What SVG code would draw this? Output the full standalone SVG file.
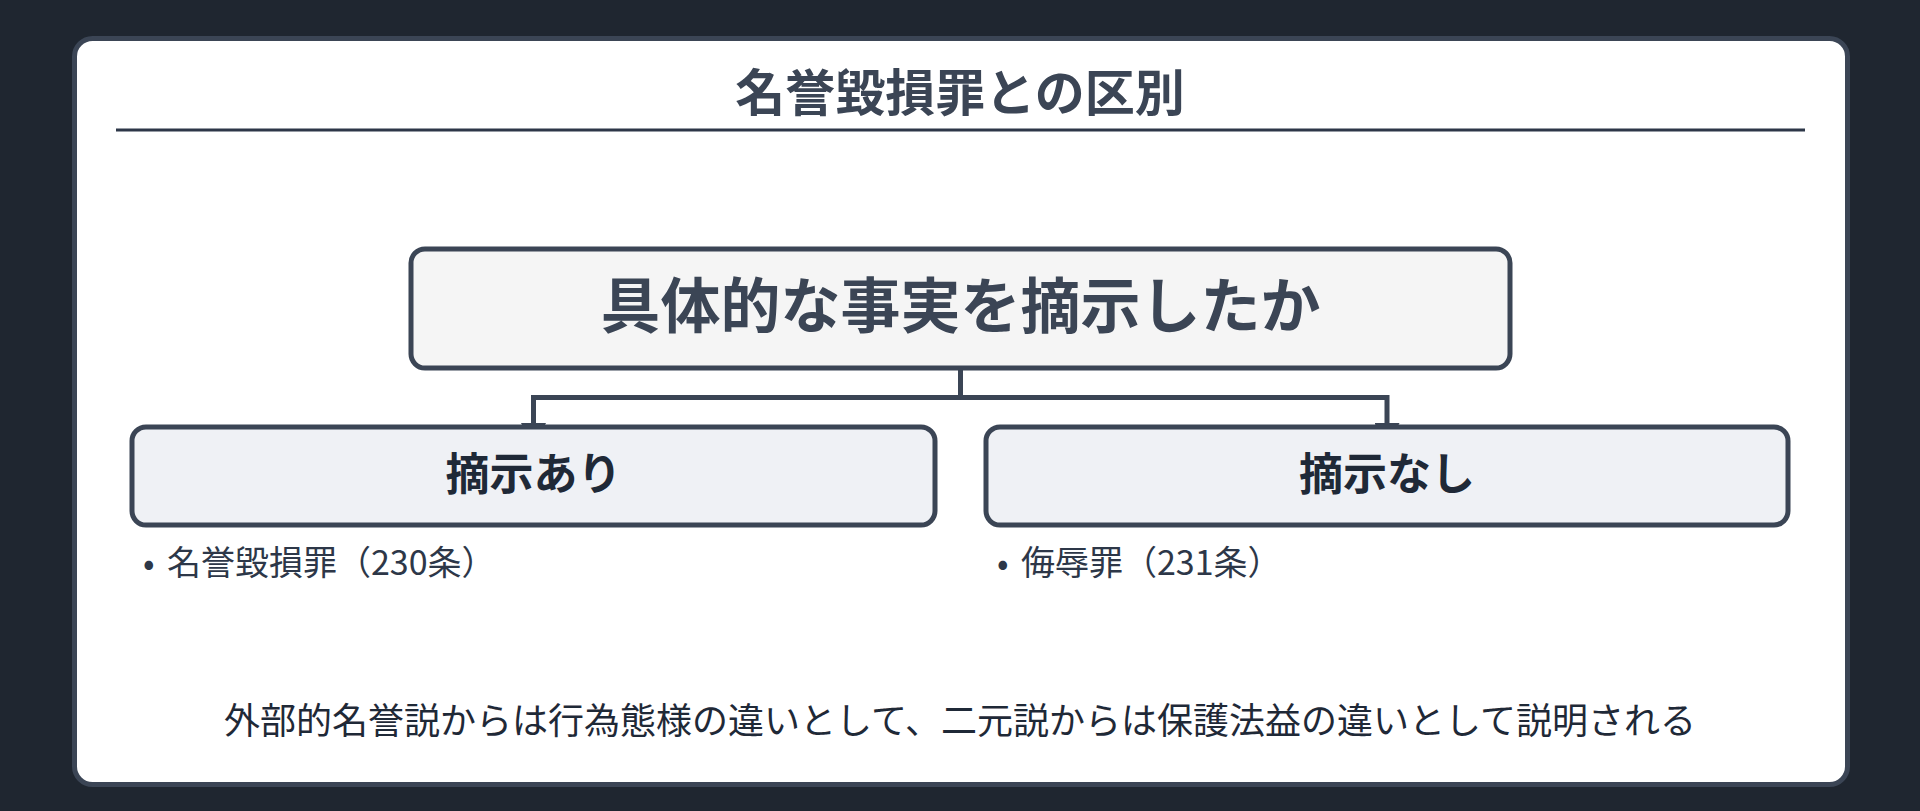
<svg xmlns="http://www.w3.org/2000/svg" width="1920" height="811" viewBox="0 0 1920 811">
  <defs>
    <style>
      .jp { font-family: "Noto Sans CJK JP", "Noto Sans", sans-serif; }
      .title { font-size: 50px; font-weight: 700; fill: #3b4555; }
      .q { font-size: 60px; font-weight: 700; fill: #3b4555; }
      .branch { font-size: 44px; font-weight: 700; fill: #1f2937; }
      .item { font-size: 34px; font-weight: 400; fill: #2d3748; }
      .note { font-size: 36px; font-weight: 400; fill: #1f2937; }
      .node-q { fill: #f5f5f5; stroke: #3b4555; stroke-width: 5; }
      .node-b { fill: #eff1f5; stroke: #3b4555; stroke-width: 5; }
      .conn { fill: none; stroke: #3b4555; stroke-width: 5; }
    </style>
    <marker id="arrow" viewBox="0 0 10 10" refX="10" refY="5" markerWidth="5" markerHeight="5" markerUnits="strokeWidth" orient="auto">
      <path d="M0,0 L10,5 L0,10 z" fill="#3b4555"/>
    </marker>
  </defs>

  <rect x="0" y="0" width="1920" height="811" fill="#1f2630"/>

  <g id="card">
    <rect x="74.5" y="38.5" width="1773" height="746" rx="18" ry="18" fill="#ffffff" stroke="#3b4555" stroke-width="5"/>
    <text class="jp title" x="960" y="111" text-anchor="middle">名誉毀損罪との区別</text>
    <line x1="116" y1="130" x2="1805" y2="130" stroke="#2d3748" stroke-width="3"/>
  </g>

  <g id="connectors">
    <path class="conn" d="M960.5,370 V397.5 H533.5 V448" marker-end="url(#arrow)"/>
    <path class="conn" d="M960.5,397.5 H1387 V448" marker-end="url(#arrow)"/>
  </g>

  <g id="node-question">
    <rect class="node-q" x="411" y="249" width="1099" height="119" rx="14" ry="14"/>
    <text class="jp q" x="960.5" y="328" text-anchor="middle">具体的な事実を摘示したか</text>
  </g>

  <g id="node-yes">
    <rect class="node-b" x="132" y="427" width="803" height="98" rx="14" ry="14"/>
    <text class="jp branch" x="533.5" y="490" text-anchor="middle">摘示あり</text>
  </g>

  <g id="node-no">
    <rect class="node-b" x="986" y="427" width="802" height="98" rx="14" ry="14"/>
    <text class="jp branch" x="1387" y="490" text-anchor="middle">摘示なし</text>
  </g>

  <g id="item-yes">
    <text class="jp item" x="143" y="575">•</text>
    <text class="jp item" x="167" y="575">名誉毀損罪（230条）</text>
  </g>

  <g id="item-no">
    <text class="jp item" x="997" y="575">•</text>
    <text class="jp item" x="1021" y="575">侮辱罪（231条）</text>
  </g>

  <g id="note">
    <text class="jp note" x="960" y="734" text-anchor="middle">外部的名誉説からは行為態様の違いとして、二元説からは保護法益の違いとして説明される</text>
  </g>
</svg>
